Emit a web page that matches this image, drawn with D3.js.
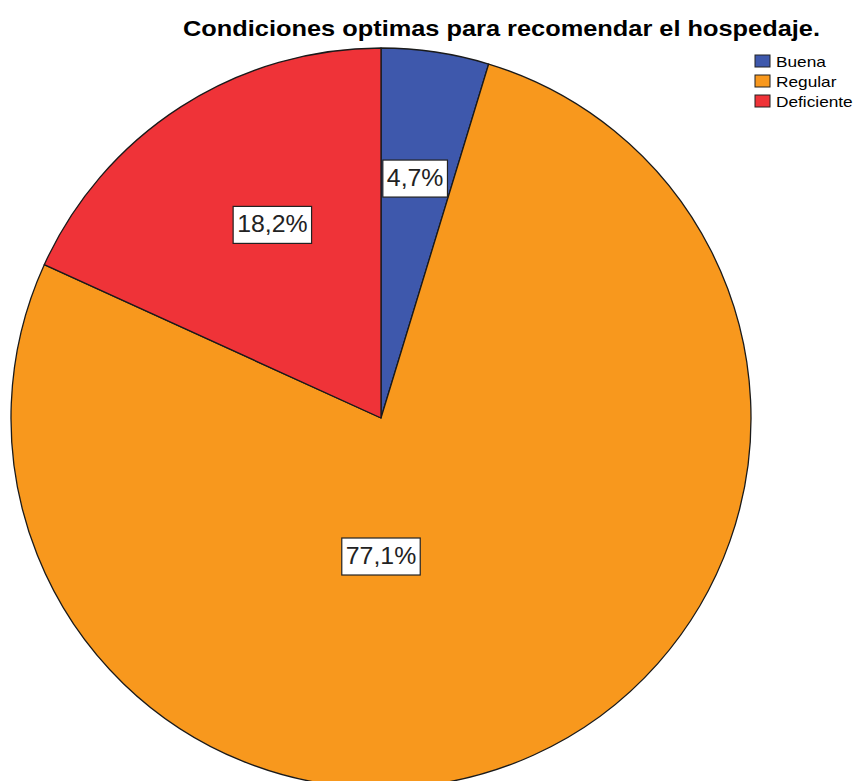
<!DOCTYPE html>
<html><head><meta charset="utf-8">
<script src="https://cdn.jsdelivr.net/npm/d3@7"></script>
<style>body{margin:0;background:#fff}svg{display:block}</style>
</head><body>
<svg id="chart" width="854" height="781"></svg>
<script>
const categories = ["Buena", "Regular", "Deficiente"];
const values = [4.7, 77.1, 18.2];
const labels = ["4,7%", "77,1%", "18,2%"];
const colors = ["#3E58AC", "#F8981D", "#EF3338"];
const title = "Condiciones optimas para recomendar el hospedaje.";
// label placement (angle in degrees from top, radius as fraction of pie radius)
const labelPlace = [[8.1, 0.655], [180, 0.373], [-29.3, 0.60]];

const FONT = "Liberation Sans, Arial, sans-serif";
const svg = d3.select("#chart");
const cx = 381, cy = 418, R = 370;

function stretch(t, k) {
  const w = t.node().getComputedTextLength();
  t.attr("textLength", w * k).attr("lengthAdjust", "spacingAndGlyphs");
  return w * k;
}

const tt = svg.append("text").attr("x", 183).attr("y", 36)
  .attr("font-family", FONT).attr("font-weight", "bold")
  .attr("font-size", 22).attr("fill", "#000").text(title);
tt.attr("textLength", 637).attr("lengthAdjust", "spacingAndGlyphs");

const pie = d3.pie().sort(null).value(d => d)(values);
const arc = d3.arc().innerRadius(0).outerRadius(R);
const g = svg.append("g").attr("transform", `translate(${cx},${cy})`);
g.selectAll("path").data(pie).join("path")
  .attr("d", arc).attr("fill", (d, i) => colors[i])
  .attr("stroke", "#1a1a1a").attr("stroke-width", 1.3).attr("stroke-linejoin", "round");

const lg = g.append("g");
pie.forEach((d, i) => {
  const a = labelPlace[i][0] * Math.PI / 180, r = labelPlace[i][1] * R;
  const x = r * Math.sin(a), y = -r * Math.cos(a);
  const t = lg.append("text").attr("x", x).attr("y", y + 8).attr("text-anchor", "middle")
    .attr("font-family", FONT).attr("font-size", 23)
    .attr("fill", "#222").text(labels[i]);
  const w = stretch(t, 1.08);
  lg.insert("rect", "text").attr("x", x - w / 2 - 4).attr("y", y - 18).attr("width", w + 8).attr("height", 37)
    .attr("fill", "#fff").attr("stroke", "#222").attr("stroke-width", 1.2);
});

const leg = svg.append("g").attr("transform", "translate(755,55)");
categories.forEach((c, i) => {
  leg.append("rect").attr("x", 0).attr("y", i * 20).attr("width", 15).attr("height", 12)
    .attr("fill", colors[i]).attr("stroke", "#222").attr("stroke-width", 1);
  const t = leg.append("text").attr("x", 21).attr("y", i * 20 + 12)
    .attr("font-family", FONT).attr("font-size", 15)
    .attr("fill", "#000").text(c);
  stretch(t, 1.15);
});
</script>
</body></html>
